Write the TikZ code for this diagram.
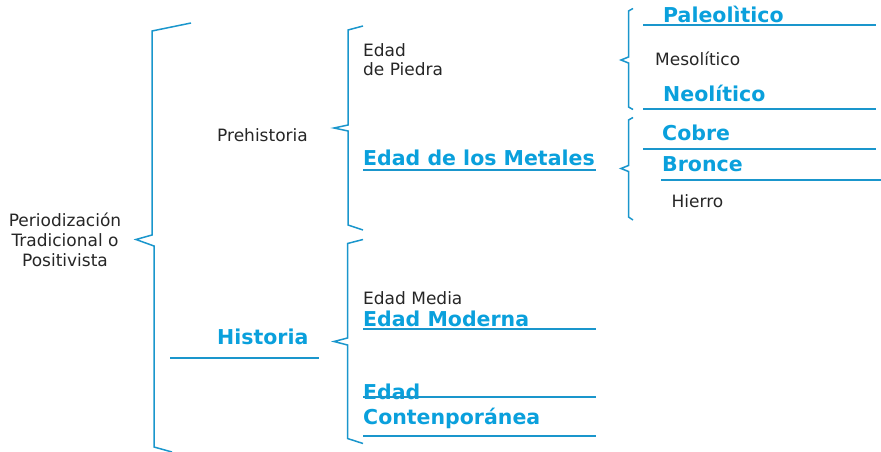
\documentclass[tikz,border=0pt]{standalone}
\usepackage{fontspec}
\setmainfont{DejaVu Sans}
\definecolor{txtblue}{HTML}{0AA0DC}
\definecolor{lineblue}{HTML}{1A96CC}
\definecolor{txtgray}{HTML}{262626}
\begin{document}
\begin{tikzpicture}[x=1pt,y=-1pt,
  plain/.style={inner sep=0pt, anchor=base west, text=txtgray, font=\fontsize{17}{20}\selectfont},
  hot/.style={inner sep=0pt, anchor=base west, text=txtblue, font=\fontsize{20.5}{24}\selectfont\bfseries},
  brk/.style={draw=lineblue, line width=1.5pt, line join=miter},
  uline/.style={draw=lineblue, line width=1.8pt}]
\useasboundingbox (0,0) rectangle (881,452);
% brackets
\draw[brk] (191,23) -- (152,31) -- (152,235) -- (136,239.5) -- (154,246) -- (154,447) -- (172,452);
\draw[brk] (363,26) -- (348,30) -- (348,125) -- (334,128) -- (348,131) -- (348,225) -- (363,230);
\draw[brk] (363,239.5) -- (347.5,243.5) -- (347.5,338) -- (334,341.5) -- (347.5,345) -- (347.5,438.5) -- (363,443.5);
\draw[brk] (633,8.5) -- (628.5,11) -- (628.5,57) -- (621,60) -- (628.5,63) -- (628.5,107) -- (633,109.5);
\draw[brk] (633,117.5) -- (628.5,120) -- (628.5,165.5) -- (621,168.5) -- (628.5,171.5) -- (628.5,217) -- (633,220);
% texts
\node[plain, anchor=base, align=center] (root) at (65,266) {Periodización\\Tradicional o\\Positivista};
\node[plain] (pre) at (217,141) {Prehistoria};
\node[hot] (his) at (217,344) {Historia};
\node[plain, align=left] (piedra) at (363,76) {Edad\\de Piedra};
\node[hot] (metal) at (363,165.7) {Edad de los Metales};
\node[hot] (paleo) at (663,22.7) {Paleolìtico};
\node[plain] (meso) at (655,65.7) {Mesolítico};
\node[hot] (neo) at (663,101.7) {Neolítico};
\node[hot] (cobre) at (662,140.7) {Cobre};
\node[hot] (bronce) at (662,171.7) {Bronce};
\node[plain] (hierro) at (671.5,207.3) {Hierro};
\node[plain] (media) at (363,304) {Edad Media};
\node[hot] (moderna) at (363,326.7) {Edad Moderna};
\node[hot] (edad) at (363,399.3) {Edad};
\node[hot] (contem) at (363,424.3) {Contenporánea};
% underlines
\coordinate (hisA) at (170,358); \coordinate (hisB) at (319,358);
\coordinate (metA) at (363,170); \coordinate (metB) at (596,170);
\coordinate (palA) at (643,25); \coordinate (palB) at (876,25);
\coordinate (neoA) at (643,109); \coordinate (neoB) at (876,109);
\coordinate (cobA) at (643,149); \coordinate (cobB) at (876,149);
\coordinate (broA) at (661,180); \coordinate (broB) at (881,180);
\coordinate (modA) at (363,329); \coordinate (modB) at (596,329);
\coordinate (edaA) at (363,397); \coordinate (edaB) at (596,397);
\coordinate (conA) at (363,436); \coordinate (conB) at (596,436);
\draw[uline] (hisA) -- (hisB);
\draw[uline] (metA) -- (metB);
\draw[uline] (palA) -- (palB);
\draw[uline] (neoA) -- (neoB);
\draw[uline] (cobA) -- (cobB);
\draw[uline] (broA) -- (broB);
\draw[uline] (modA) -- (modB);
\draw[uline] (edaA) -- (edaB);
\draw[uline] (conA) -- (conB);
\end{tikzpicture}
\end{document}
